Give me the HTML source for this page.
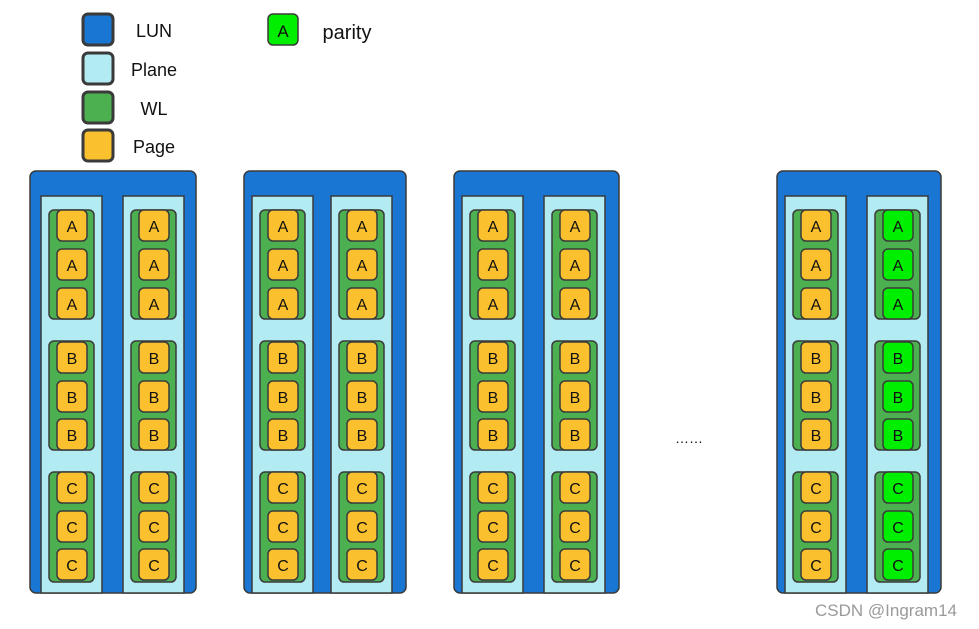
<!DOCTYPE html>
<html><head><meta charset="utf-8"><style>
html,body{margin:0;padding:0;background:#fff;}
svg{display:block;font-family:"Liberation Sans",sans-serif;}
.p{fill:#fbc02d;stroke:#3a3a3a;stroke-width:1.5}
.g{fill:#00ee00;stroke:#3a3a3a;stroke-width:1.5}
.w{fill:#4caf50;stroke:#3a3a3a;stroke-width:1.5}
.pl{fill:#b3ebf2;stroke:#3a3a3a;stroke-width:1.5}
.l{fill:#1976d2;stroke:#3a3a3a;stroke-width:1.5}
.t{font-size:16px;text-anchor:middle;fill:#111}
.lg{font-size:18px;text-anchor:middle;fill:#111}
</style></head><body>
<svg width="979" height="629" viewBox="0 0 979 629" xmlns="http://www.w3.org/2000/svg">
<!-- legend -->
<rect x="83" y="14" width="30" height="31" rx="5" class="l" stroke-width="3" style="stroke-width:3"/>
<rect x="83" y="53" width="30" height="31" rx="5" class="pl" style="stroke-width:3"/>
<rect x="83" y="92" width="30" height="31" rx="5" class="w" style="stroke-width:3"/>
<rect x="83" y="130" width="30" height="31" rx="5" class="p" style="stroke-width:3"/>
<text x="154" y="37" class="lg">LUN</text>
<text x="154" y="76" class="lg">Plane</text>
<text x="154" y="115" class="lg">WL</text>
<text x="154" y="153" class="lg">Page</text>
<rect x="268" y="14" width="30" height="31" rx="5" class="g"/>
<text x="283" y="37" class="t" style="font-size:17px">A</text>
<text x="347" y="39" class="lg" style="font-size:20px">parity</text>

<!-- LUNs -->
<rect x="30" y="171" width="166" height="422" rx="6" class="l"/>
<rect x="244" y="171" width="162" height="422" rx="6" class="l"/>
<rect x="454" y="171" width="165" height="422" rx="6" class="l"/>
<rect x="777" y="171" width="164" height="422" rx="6" class="l"/>

<text x="689" y="443" class="t" style="font-size:14px">……</text>
<text x="886" y="616" style="font-size:17px;text-anchor:middle;fill:#9a9a9a">CSDN @Ingram14</text>
</svg>
<script></script>
<svg width="0" height="0" style="position:absolute"></svg>
<div id="x"></div>
<style>#x{display:none}</style>
<svg width="979" height="629" viewBox="0 0 979 629" style="position:absolute;left:0;top:0;font-family:'Liberation Sans',sans-serif">
<g transform="translate(41,196)">
<rect x="0" y="0" width="61" height="397" class="pl"/>
<rect x="8" y="14" width="45" height="109" rx="5" class="w"/><rect x="8" y="145" width="45" height="109" rx="5" class="w"/><rect x="8" y="276" width="45" height="110" rx="5" class="w"/>
<rect x="16" y="14" width="30" height="31" rx="5" class="p"/><rect x="16" y="53" width="30" height="31" rx="5" class="p"/><rect x="16" y="92" width="30" height="31" rx="5" class="p"/>
<rect x="16" y="146" width="30" height="31" rx="5" class="p"/><rect x="16" y="185" width="30" height="31" rx="5" class="p"/><rect x="16" y="223" width="30" height="31" rx="5" class="p"/>
<rect x="16" y="276" width="30" height="31" rx="5" class="p"/><rect x="16" y="315" width="30" height="31" rx="5" class="p"/><rect x="16" y="353" width="30" height="31" rx="5" class="p"/>
<text x="31" y="36" class="t">A</text><text x="31" y="75" class="t">A</text><text x="31" y="114" class="t">A</text>
<text x="31" y="168" class="t">B</text><text x="31" y="207" class="t">B</text><text x="31" y="245" class="t">B</text>
<text x="31" y="298" class="t">C</text><text x="31" y="337" class="t">C</text><text x="31" y="375" class="t">C</text>
</g>
<g transform="translate(123,196)">
<rect x="0" y="0" width="61" height="397" class="pl"/>
<rect x="8" y="14" width="45" height="109" rx="5" class="w"/><rect x="8" y="145" width="45" height="109" rx="5" class="w"/><rect x="8" y="276" width="45" height="110" rx="5" class="w"/>
<rect x="16" y="14" width="30" height="31" rx="5" class="p"/><rect x="16" y="53" width="30" height="31" rx="5" class="p"/><rect x="16" y="92" width="30" height="31" rx="5" class="p"/>
<rect x="16" y="146" width="30" height="31" rx="5" class="p"/><rect x="16" y="185" width="30" height="31" rx="5" class="p"/><rect x="16" y="223" width="30" height="31" rx="5" class="p"/>
<rect x="16" y="276" width="30" height="31" rx="5" class="p"/><rect x="16" y="315" width="30" height="31" rx="5" class="p"/><rect x="16" y="353" width="30" height="31" rx="5" class="p"/>
<text x="31" y="36" class="t">A</text><text x="31" y="75" class="t">A</text><text x="31" y="114" class="t">A</text>
<text x="31" y="168" class="t">B</text><text x="31" y="207" class="t">B</text><text x="31" y="245" class="t">B</text>
<text x="31" y="298" class="t">C</text><text x="31" y="337" class="t">C</text><text x="31" y="375" class="t">C</text>
</g>
<g transform="translate(252,196)">
<rect x="0" y="0" width="61" height="397" class="pl"/>
<rect x="8" y="14" width="45" height="109" rx="5" class="w"/><rect x="8" y="145" width="45" height="109" rx="5" class="w"/><rect x="8" y="276" width="45" height="110" rx="5" class="w"/>
<rect x="16" y="14" width="30" height="31" rx="5" class="p"/><rect x="16" y="53" width="30" height="31" rx="5" class="p"/><rect x="16" y="92" width="30" height="31" rx="5" class="p"/>
<rect x="16" y="146" width="30" height="31" rx="5" class="p"/><rect x="16" y="185" width="30" height="31" rx="5" class="p"/><rect x="16" y="223" width="30" height="31" rx="5" class="p"/>
<rect x="16" y="276" width="30" height="31" rx="5" class="p"/><rect x="16" y="315" width="30" height="31" rx="5" class="p"/><rect x="16" y="353" width="30" height="31" rx="5" class="p"/>
<text x="31" y="36" class="t">A</text><text x="31" y="75" class="t">A</text><text x="31" y="114" class="t">A</text>
<text x="31" y="168" class="t">B</text><text x="31" y="207" class="t">B</text><text x="31" y="245" class="t">B</text>
<text x="31" y="298" class="t">C</text><text x="31" y="337" class="t">C</text><text x="31" y="375" class="t">C</text>
</g>
<g transform="translate(331,196)">
<rect x="0" y="0" width="61" height="397" class="pl"/>
<rect x="8" y="14" width="45" height="109" rx="5" class="w"/><rect x="8" y="145" width="45" height="109" rx="5" class="w"/><rect x="8" y="276" width="45" height="110" rx="5" class="w"/>
<rect x="16" y="14" width="30" height="31" rx="5" class="p"/><rect x="16" y="53" width="30" height="31" rx="5" class="p"/><rect x="16" y="92" width="30" height="31" rx="5" class="p"/>
<rect x="16" y="146" width="30" height="31" rx="5" class="p"/><rect x="16" y="185" width="30" height="31" rx="5" class="p"/><rect x="16" y="223" width="30" height="31" rx="5" class="p"/>
<rect x="16" y="276" width="30" height="31" rx="5" class="p"/><rect x="16" y="315" width="30" height="31" rx="5" class="p"/><rect x="16" y="353" width="30" height="31" rx="5" class="p"/>
<text x="31" y="36" class="t">A</text><text x="31" y="75" class="t">A</text><text x="31" y="114" class="t">A</text>
<text x="31" y="168" class="t">B</text><text x="31" y="207" class="t">B</text><text x="31" y="245" class="t">B</text>
<text x="31" y="298" class="t">C</text><text x="31" y="337" class="t">C</text><text x="31" y="375" class="t">C</text>
</g>
<g transform="translate(462,196)">
<rect x="0" y="0" width="61" height="397" class="pl"/>
<rect x="8" y="14" width="45" height="109" rx="5" class="w"/><rect x="8" y="145" width="45" height="109" rx="5" class="w"/><rect x="8" y="276" width="45" height="110" rx="5" class="w"/>
<rect x="16" y="14" width="30" height="31" rx="5" class="p"/><rect x="16" y="53" width="30" height="31" rx="5" class="p"/><rect x="16" y="92" width="30" height="31" rx="5" class="p"/>
<rect x="16" y="146" width="30" height="31" rx="5" class="p"/><rect x="16" y="185" width="30" height="31" rx="5" class="p"/><rect x="16" y="223" width="30" height="31" rx="5" class="p"/>
<rect x="16" y="276" width="30" height="31" rx="5" class="p"/><rect x="16" y="315" width="30" height="31" rx="5" class="p"/><rect x="16" y="353" width="30" height="31" rx="5" class="p"/>
<text x="31" y="36" class="t">A</text><text x="31" y="75" class="t">A</text><text x="31" y="114" class="t">A</text>
<text x="31" y="168" class="t">B</text><text x="31" y="207" class="t">B</text><text x="31" y="245" class="t">B</text>
<text x="31" y="298" class="t">C</text><text x="31" y="337" class="t">C</text><text x="31" y="375" class="t">C</text>
</g>
<g transform="translate(544,196)">
<rect x="0" y="0" width="61" height="397" class="pl"/>
<rect x="8" y="14" width="45" height="109" rx="5" class="w"/><rect x="8" y="145" width="45" height="109" rx="5" class="w"/><rect x="8" y="276" width="45" height="110" rx="5" class="w"/>
<rect x="16" y="14" width="30" height="31" rx="5" class="p"/><rect x="16" y="53" width="30" height="31" rx="5" class="p"/><rect x="16" y="92" width="30" height="31" rx="5" class="p"/>
<rect x="16" y="146" width="30" height="31" rx="5" class="p"/><rect x="16" y="185" width="30" height="31" rx="5" class="p"/><rect x="16" y="223" width="30" height="31" rx="5" class="p"/>
<rect x="16" y="276" width="30" height="31" rx="5" class="p"/><rect x="16" y="315" width="30" height="31" rx="5" class="p"/><rect x="16" y="353" width="30" height="31" rx="5" class="p"/>
<text x="31" y="36" class="t">A</text><text x="31" y="75" class="t">A</text><text x="31" y="114" class="t">A</text>
<text x="31" y="168" class="t">B</text><text x="31" y="207" class="t">B</text><text x="31" y="245" class="t">B</text>
<text x="31" y="298" class="t">C</text><text x="31" y="337" class="t">C</text><text x="31" y="375" class="t">C</text>
</g>
<g transform="translate(785,196)">
<rect x="0" y="0" width="61" height="397" class="pl"/>
<rect x="8" y="14" width="45" height="109" rx="5" class="w"/><rect x="8" y="145" width="45" height="109" rx="5" class="w"/><rect x="8" y="276" width="45" height="110" rx="5" class="w"/>
<rect x="16" y="14" width="30" height="31" rx="5" class="p"/><rect x="16" y="53" width="30" height="31" rx="5" class="p"/><rect x="16" y="92" width="30" height="31" rx="5" class="p"/>
<rect x="16" y="146" width="30" height="31" rx="5" class="p"/><rect x="16" y="185" width="30" height="31" rx="5" class="p"/><rect x="16" y="223" width="30" height="31" rx="5" class="p"/>
<rect x="16" y="276" width="30" height="31" rx="5" class="p"/><rect x="16" y="315" width="30" height="31" rx="5" class="p"/><rect x="16" y="353" width="30" height="31" rx="5" class="p"/>
<text x="31" y="36" class="t">A</text><text x="31" y="75" class="t">A</text><text x="31" y="114" class="t">A</text>
<text x="31" y="168" class="t">B</text><text x="31" y="207" class="t">B</text><text x="31" y="245" class="t">B</text>
<text x="31" y="298" class="t">C</text><text x="31" y="337" class="t">C</text><text x="31" y="375" class="t">C</text>
</g>
<g transform="translate(867,196)">
<rect x="0" y="0" width="61" height="397" class="pl"/>
<rect x="8" y="14" width="45" height="109" rx="5" class="w"/><rect x="8" y="145" width="45" height="109" rx="5" class="w"/><rect x="8" y="276" width="45" height="110" rx="5" class="w"/>
<rect x="16" y="14" width="30" height="31" rx="5" class="g"/><rect x="16" y="53" width="30" height="31" rx="5" class="g"/><rect x="16" y="92" width="30" height="31" rx="5" class="g"/>
<rect x="16" y="146" width="30" height="31" rx="5" class="g"/><rect x="16" y="185" width="30" height="31" rx="5" class="g"/><rect x="16" y="223" width="30" height="31" rx="5" class="g"/>
<rect x="16" y="276" width="30" height="31" rx="5" class="g"/><rect x="16" y="315" width="30" height="31" rx="5" class="g"/><rect x="16" y="353" width="30" height="31" rx="5" class="g"/>
<text x="31" y="36" class="t">A</text><text x="31" y="75" class="t">A</text><text x="31" y="114" class="t">A</text>
<text x="31" y="168" class="t">B</text><text x="31" y="207" class="t">B</text><text x="31" y="245" class="t">B</text>
<text x="31" y="298" class="t">C</text><text x="31" y="337" class="t">C</text><text x="31" y="375" class="t">C</text>
</g>
</svg>
</body></html>
